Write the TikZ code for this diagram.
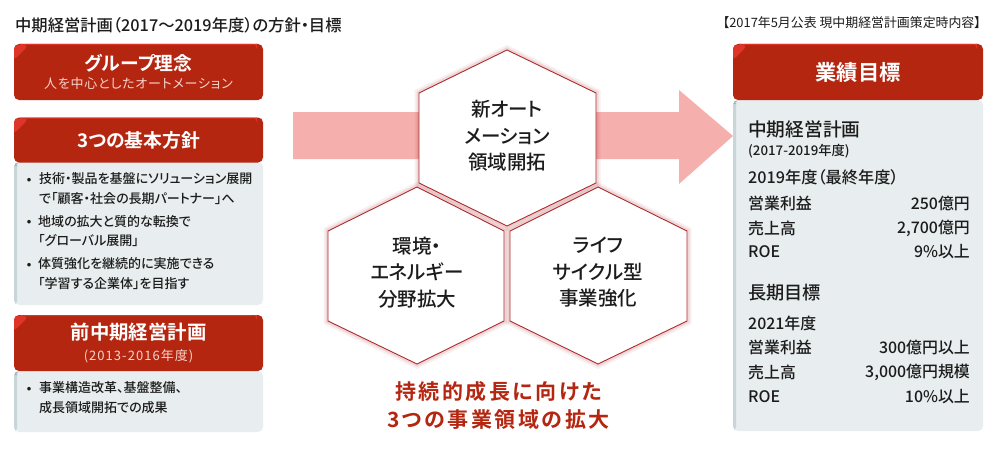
\documentclass[tikz,border=0pt]{standalone}
\usepackage{fontspec}
\setmainfont[BoldFont={Noto Sans CJK JP Medium},RawFeature={+palt}]{Noto Sans CJK JP}
\newfontfamily\HeavyFont[RawFeature={+palt}]{Noto Sans CJK JP Bold}
\usepackage{xcolor}
\definecolor{ColRed}{RGB}{181,38,17}
\definecolor{ColBright}{RGB}{222,52,42}
\definecolor{ColPanel}{RGB}{232,238,239}
\definecolor{ColEdge}{RGB}{200,214,217}
\definecolor{ColCorner}{RGB}{160,178,184}
\definecolor{ColArrow}{RGB}{245,176,174}
\definecolor{ColHex}{RGB}{172,42,44}
\definecolor{ColSub}{RGB}{245,214,205}
\definecolor{ColText}{RGB}{28,28,28}
\usetikzlibrary{calc}
\newcommand{\FontAt}[2]{\fontsize{#1}{#2}\selectfont}
\tikzstyle{Head}=[rounded corners=5pt,fill=ColRed,text=white,minimum width=249pt,
inner sep=0pt,align=center,font=\FontAt{18.8}{24}\HeavyFont,
path picture={\fill[ColBright]([shift={(-1pt,-1pt)}]path picture bounding box.north west)
    --++(16pt,0pt)--++(-16pt,-16pt)--cycle;
    \fill[ColBright]([shift={(6pt,0pt)}]path picture bounding box.north west)
    rectangle([shift={(-6pt,-1pt)}]path picture bounding box.north east);}]
\tikzstyle{Panel}=[rounded corners=5pt,fill=ColPanel,minimum width=249pt,inner sep=0pt,
path picture={\fill[ColEdge]([shift={(-1pt,1pt)}]path picture bounding box.north west)
    rectangle([shift={(3pt,-1pt)}]path picture bounding box.south west);
    \fill[ColCorner]([shift={(-1pt,1pt)}]path picture bounding box.north west)
    --++(6pt,0pt)--++(-3pt,-5pt)--++(-3pt,0pt)--cycle;}]
\tikzstyle{BulletMark}=[font=\FontAt{14}{14}\HeavyFont,text=ColText,inner sep=0pt]
\tikzstyle{BulletText}=[anchor=west,align=left,inner sep=0pt,text=ColText,
font=\FontAt{13}{19.3}\bfseries]
\tikzstyle{HexText}=[align=center,inner sep=0pt,text=ColText,font=\FontAt{19.5}{26.5}\bfseries]
\tikzstyle{HexCell}=[draw=ColHex,fill=white,line width=.9pt,line join=miter,
preaction={draw=ColHex,opacity=.07,line width=9pt},
preaction={draw=ColHex,opacity=.12,line width=5pt}]
\tikzstyle{Goal}=[anchor=west,inner sep=0pt,text=ColText,font=\FontAt{15.9}{18}\bfseries]
\tikzstyle{GoalValue}=[anchor=east,inner sep=0pt,text=ColText,font=\FontAt{15.9}{18}\bfseries]
\begin{document}
\begin{tikzpicture}[x=1pt,y=-1pt]
    \useasboundingbox(0,0)rectangle(1000,452);
    \fill[white](0,0)rectangle(1000,452);
    % titles
    \node[anchor=west,inner sep=0pt,text=ColText,font=\FontAt{16.3}{18}\bfseries](title)at(15,25)
        {中期経営計画（2017～2019年度）の方針・目標};
    \node[anchor=east,inner sep=0pt,text=ColText,font=\FontAt{12.9}{14}](source)at(981,23)
        {【2017年5月公表 現中期経営計画策定時内容】};
    % left column
    \node[Head,minimum height=56pt](vision)at(138.5,72)
        {\raisebox{-1pt}{グループ理念}\\[-5pt]{\FontAt{13}{14}\mdseries\color{ColSub}\setmainfont[RawFeature={+palt},LetterSpace=6]{Noto Sans CJK JP}人を中心としたオートメーション}};
    \node[Panel,minimum height=143pt](basicbox)at(138.5,233.5){};
    \node[Head,minimum height=45pt](basic)at(138.5,140){3つの基本方針};
    \node[BulletMark](b1)at(29,182){・};
    \node[BulletText](t1)at(39,188.5){技術・製品を基盤にソリューション展開\\で「顧客・社会の長期パートナー」へ};
    \node[BulletMark](b2)at(29,224){・};
    \node[BulletText](t2)at(38,231){地域の拡大と質的な転換で\\「グローバル展開」};
    \node[BulletMark](b3)at(29,267){・};
    \node[BulletText](t3)at(38,273.5){体質強化を継続的に実施できる\\「学習する企業体」を目指す};
    \node[Panel,minimum height=61pt](prevbox)at(138.5,401.5){};
    \node[Head,minimum height=56pt,font=\FontAt{19.4}{24}\HeavyFont](prev)at(138.5,343)
        {前中期経営計画\\[-3pt]{\FontAt{13}{14}\color{ColSub}\setmainfont[RawFeature={+palt},LetterSpace=8]{Noto Sans CJK JP}(2013-2016年度)}};
    \node[BulletMark](b4)at(29,391){・};
    \node[BulletText](t4)at(39,397.5){事業構造改革、基盤整備、\\成長領域開拓での成果};
    % arrow
    \fill[ColArrow](293,112)--(679,112)--(679,90)--(733,136)--(679,184)--(679,159)--(293,159)--cycle;
    % hexagons
    \draw[HexCell](417,187)--(504,231)--(504,321)--(417,364)--(328,321)--(328,231)--cycle;
    \draw[HexCell](598,187)--(687,231)--(687,321)--(598,364)--(510,321)--(510,231)--cycle;
    \draw[HexCell](507,50)--(596,93)--(596,183)--(507,226)--(419,183)--(419,93)--cycle;
    \node[HexText](newauto)at(507,136){新オート\\メーション\\領域開拓};
    \node[HexText](energy)at(417,272.5){環境・\\エネルギー\\分野拡大};
    \node[HexText](life)at(598,272.5){ライフ\\サイクル型\\事業強化};
    \node[align=center,inner sep=0pt,text=ColRed,
        font=\FontAt{21}{28}\HeavyFont\addfontfeature{LetterSpace=12}](growth)at(498.5,405)
        {持続的成長に向けた\\3つの事業領域の拡大};
    % right column
    \node[Panel,minimum width=250pt,minimum height=331pt](goalbox)at(858,265.5){};
    \node[Head,minimum width=250pt,minimum height=56pt,font=\FontAt{21.3}{24}\HeavyFont](goals)at(858,72){業績目標};
    \node[Goal,font=\FontAt{18.7}{22}\bfseries](plan)at(748,129){中期経営計画};
    \node[Goal,font=\FontAt{13.3}{14}\bfseries](planyears)at(748,151){(2017-2019年度)};
    \node[Goal,font=\FontAt{16.2}{18}\bfseries](final)at(748,177){2019年度（最終年度）};
    \node[Goal](op1)at(748,203){営業利益};
    \node[GoalValue](opv1)at(970,203){250億円};
    \node[Goal](sales1)at(748,228){売上高};
    \node[GoalValue](salesv1)at(970,228){2,700億円};
    \node[Goal](roe1)at(748,252){ROE};
    \node[GoalValue](roev1)at(970,252){9\%以上};
    \node[Goal,font=\FontAt{18.2}{22}\bfseries](longterm)at(748,293){長期目標};
    \node[Goal](year)at(748,323){2021年度};
    \node[Goal](op2)at(748,347){営業利益};
    \node[GoalValue](opv2)at(970,347){300億円以上};
    \node[Goal](sales2)at(748,372){売上高};
    \node[GoalValue](salesv2)at(970,372){3,000億円規模};
    \node[Goal](roe2)at(748,397){ROE};
    \node[GoalValue](roev2)at(970,397){10\%以上};
\end{tikzpicture}
\end{document}
